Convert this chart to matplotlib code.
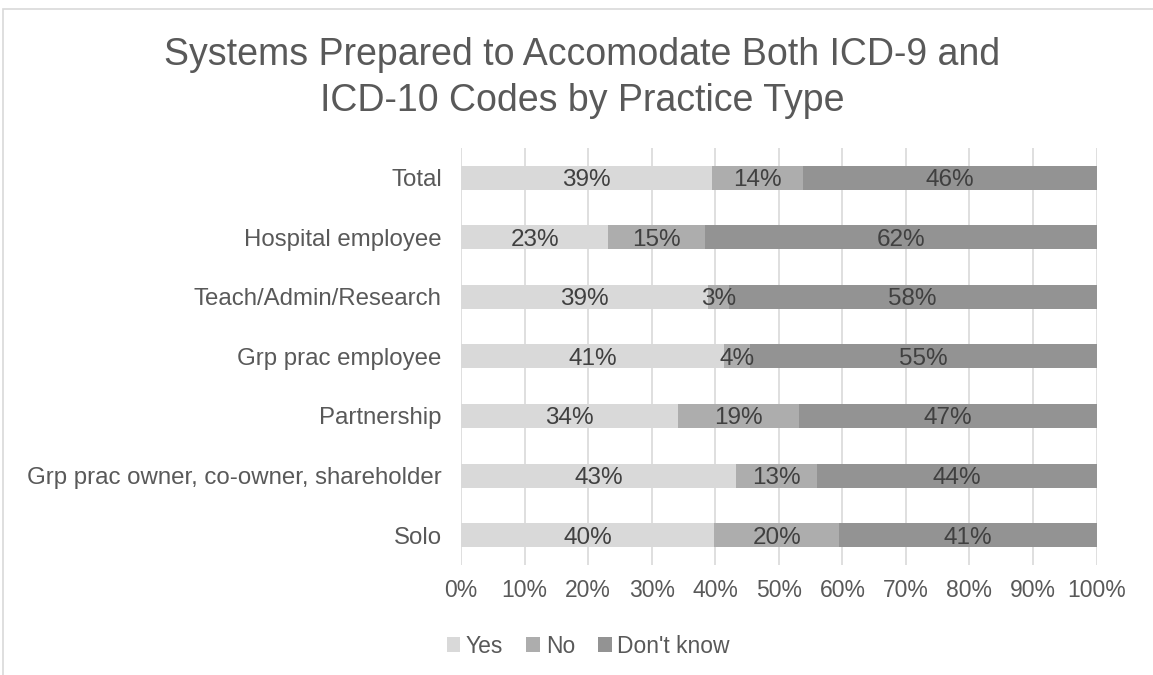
import numpy as np
import matplotlib
matplotlib.use("Agg")
from matplotlib import pyplot as plt
from matplotlib.patches import Rectangle

plt.rcParams['font.family'] = ['Liberation Sans', 'DejaVu Sans']

# categories from top to bottom as shown
categories = ["Total", "Hospital employee", "Teach/Admin/Research",
              "Grp prac employee", "Partnership",
              "Grp prac owner, co-owner, shareholder", "Solo"]
yes_vals  = [39.4, 23.1, 38.8, 41.3, 34.1, 43.3, 39.8]
no_vals   = [14.4, 15.3, 3.3, 4.1, 19.1, 12.7, 19.7]
dk_vals   = [46.2, 61.6, 57.9, 54.6, 46.8, 44.0, 40.6]
series_names = ["Yes", "No", "Don't know"]
ticks = np.arange(0, 101, 10)

colors = ["#D9D9D9", "#ADADAD", "#939393"]
txt = "#595959"

fig = plt.figure(figsize=(11.53, 6.75), dpi=100)
ax = fig.add_axes([0.4, 0.163, 0.551, 0.618])

# light border of the chart area
fig.patches.append(Rectangle((0.003, -0.01), 1.2, 0.997, transform=fig.transFigure,
                             fill=False, edgecolor="#D9D9D9", lw=1.2))

y = np.arange(len(categories))
left = np.zeros(len(categories))
for vals, name, c in zip([yes_vals, no_vals, dk_vals], series_names, colors):
    vals = np.array(vals)
    bars = ax.barh(y, vals, left=left, height=0.4, color=c, label=name, zorder=3)
    for yi, l, v in zip(y, left, vals):
        ax.text(l + v / 2, yi, "{:.0f}%".format(v), ha="center", va="center_baseline",
                fontsize=17.5, color="#404040", zorder=4)
    left = left + vals

ax.set_xlim(0, 100)
ax.set_ylim(len(categories) - 0.5, -0.5)
ax.set_xticks(ticks)
ax.set_xticklabels(["{}%".format(t) for t in ticks], fontsize=16.5, color=txt)
ax.tick_params(length=0)
ax.tick_params(axis="x", pad=10)
ax.set_yticks(y)
ax.set_yticklabels(categories, fontsize=17.3, color=txt)
ax.tick_params(axis="y", pad=14)
ax.grid(axis="x", color="#D9D9D9", lw=1.2, zorder=0)
for s in ax.spines.values():
    s.set_visible(False)

fig.text(0.505, 0.884, "Systems Prepared to Accomodate Both ICD-9 and\nICD-10 Codes by Practice Type",
         ha="center", va="center", fontsize=27, color=txt, linespacing=1.35)

leg = ax.legend(loc="center", bbox_to_anchor=(0.2, -0.195), ncol=3, frameon=False,
                fontsize=16.5, handlelength=0.6, handleheight=0.6, handletextpad=0.25,
                columnspacing=1.0, labelcolor=txt)

fig.savefig("out.png", dpi=100)
